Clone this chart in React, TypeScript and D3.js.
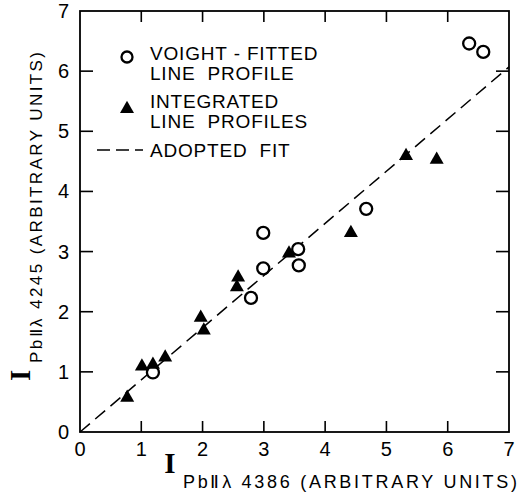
import React from 'react';
import * as d3 from 'd3';

// Voigt-fitted line profile points (open circles)
const voigtX = [6.35, 6.58, 4.67, 2.99, 3.56, 3.57, 2.99, 2.79, 1.19];
const voigtY = [6.46, 6.32, 3.71, 3.31, 3.04, 2.77, 2.72, 2.23, 0.99];

// Integrated line profile points (filled triangles)
const integX = [0.77, 1.01, 1.19, 1.39, 1.97, 2.02, 2.58, 2.56, 3.41, 4.42, 5.32, 5.82];
const integY = [0.6, 1.12, 1.15, 1.27, 1.93, 1.72, 2.6, 2.44, 3.0, 3.34, 4.62, 4.56];

// adopted fit: straight line through origin
const fitX = [0, 7];
const fitY = [0, 6.07];

const ticks = [0, 1, 2, 3, 4, 5, 6, 7];

const W = 519;
const H = 495;
const FONT = "'Liberation Sans', Arial, sans-serif";
const SERIF = "'Liberation Serif', 'DejaVu Serif', serif";
const SP = '\u00A0\u00A0';

const tri = (cx: number, cy: number, s = 14) =>
  `M${cx},${cy - s * 0.45}L${cx + s / 2},${cy + s * 0.42}L${cx - s / 2},${cy + s * 0.42}Z`;

export default function App() {
  const x = d3.scaleLinear().domain([0, 7]).range([80, 509]);
  const y = d3.scaleLinear().domain([0, 7]).range([432, 11]);

  const fitLine = d3
    .line<number>()
    .x((d) => x(fitX[d]))
    .y((d) => y(fitY[d]));

  const tickLen = 11;

  return (
    <svg
      width={W}
      height={H}
      style={{ position: 'absolute', left: 0, top: 0, background: '#fff' }}
    >
      {/* frame */}
      <rect x={x(0)} y={y(7)} width={x(7) - x(0)} height={y(0) - y(7)} fill="none" stroke="#000" strokeWidth={1.8} />

      {/* ticks on all four sides, pointing inward */}
      {ticks.slice(1, 7).map((t) => (
        <g key={'t' + t} stroke="#000" strokeWidth={1.6}>
          <line x1={x(t)} x2={x(t)} y1={y(0)} y2={y(0) - tickLen} />
          <line x1={x(t)} x2={x(t)} y1={y(7)} y2={y(7) + tickLen} />
          <line x1={x(0)} x2={x(0) + tickLen + 2} y1={y(t)} y2={y(t)} />
          <line x1={x(7)} x2={x(7) - tickLen - 2} y1={y(t)} y2={y(t)} />
        </g>
      ))}

      {/* tick labels */}
      {ticks.map((t) => (
        <text key={'xl' + t} x={x(t)} y={456} textAnchor="middle" fontFamily={FONT} fontSize={20}>
          {t}
        </text>
      ))}
      {ticks.map((t) => (
        <text key={'yl' + t} x={69} y={y(t) + 7} textAnchor="end" fontFamily={FONT} fontSize={20}>
          {t}
        </text>
      ))}

      {/* adopted fit */}
      <path
        d={fitLine([0, 1]) || ''}
        fill="none"
        stroke="#000"
        strokeWidth={1.5}
        strokeDasharray="13,7"
      />

      {/* data */}
      {voigtX.map((v, i) => (
        <circle key={'c' + i} cx={x(v)} cy={y(voigtY[i])} r={6} fill="#fff" stroke="#000" strokeWidth={2.3} />
      ))}
      {integX.map((v, i) => (
        <path key={'p' + i} d={tri(x(v), y(integY[i]))} fill="#000" />
      ))}

      {/* legend */}
      <g fontFamily={FONT} fontSize={19} letterSpacing={0.8}>
        <circle cx={127} cy={57} r={5.5} fill="#fff" stroke="#000" strokeWidth={2.3} />
        <text x={150} y={60}>{'VOIGHT\u00A0-\u00A0FITTED'}</text>
        <text x={150} y={80}>{'LINE' + SP + 'PROFILE'}</text>
        <path d={tri(127, 107)} fill="#000" />
        <text x={150} y={108}>INTEGRATED</text>
        <text x={150} y={128}>{'LINE' + SP + 'PROFILES'}</text>
        <line x1={97} x2={143} y1={150} y2={150} stroke="#000" strokeWidth={1.5} strokeDasharray="13,6" />
        <text x={150} y={157}>{'ADOPTED' + SP + 'FIT'}</text>
      </g>

      {/* x axis title */}
      <text x={170} y={473} textAnchor="middle" fontFamily={SERIF} fontWeight="bold" fontSize={29}>I</text>
      <text x={183} y={488} fontFamily={FONT} fontSize={18} textLength={334} lengthAdjust="spacing">
        PbⅡλ 4386 (ARBITRARY UNITS)
      </text>

      {/* y axis title */}
      <g transform="translate(30,381) rotate(-90)">
        <text x={0} y={0} fontFamily={SERIF} fontWeight="bold" fontSize={29}>I</text>
      </g>
      <g transform="translate(42,363) rotate(-90)">
        <text x={0} y={0} fontFamily={FONT} fontSize={17} textLength={311} lengthAdjust="spacing">
          PbⅡλ 4245 (ARBITRARY UNITS)
        </text>
      </g>
    </svg>
  );
}
